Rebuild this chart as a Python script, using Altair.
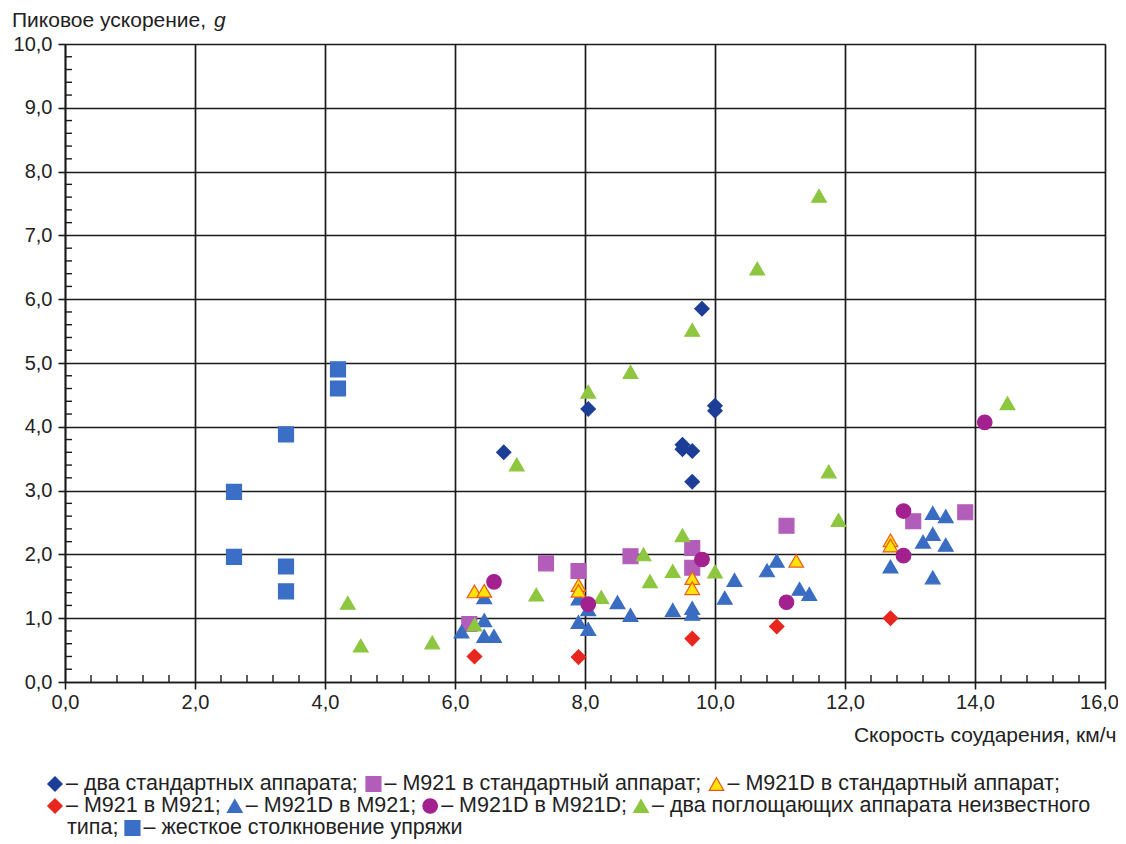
import altair as alt
import pandas as pd

# ---------------- data ----------------
two_std_x = [6.75, 8.05, 9.5, 9.5, 9.65, 9.65, 9.8, 10.0, 10.0]
two_std_y = [3.6, 4.28, 3.72, 3.65, 3.62, 3.14, 5.85, 4.33, 4.25]

m921_std_x = [6.22, 7.4, 7.9, 8.7, 9.65, 9.65, 11.1, 13.05, 13.85]
m921_std_y = [0.91, 1.86, 1.74, 1.97, 2.1, 1.79, 2.45, 2.52, 2.66]

m921d_std_x = [6.3, 6.45, 7.9, 7.9, 9.65, 9.65, 11.25, 12.7, 12.7]
m921d_std_y = [1.42, 1.43, 1.52, 1.43, 1.63, 1.47, 1.9, 2.22, 2.14]

m921_m921_x = [6.3, 7.9, 9.65, 10.95, 12.7]
m921_m921_y = [0.4, 0.39, 0.68, 0.87, 1.0]

m921d_m921_x = [6.1, 6.45, 6.45, 6.45, 6.6, 7.9, 7.9, 8.05, 8.05, 8.5, 8.7, 9.35,
                9.65, 9.65, 10.15, 10.3, 10.8, 10.95, 11.3, 11.45, 12.7, 13.2,
                13.35, 13.35, 13.35, 13.55, 13.55]
m921d_m921_y = [0.79, 0.97, 0.72, 1.33, 0.72, 1.31, 0.94, 0.83, 1.14, 1.25, 1.05, 1.13,
                1.16, 1.07, 1.32, 1.6, 1.75, 1.9, 1.46, 1.38, 1.81, 2.2,
                2.65, 2.32, 1.64, 2.6, 2.15]

m921d_m921d_x = [6.6, 8.05, 9.8, 11.1, 12.9, 12.9, 14.15]
m921d_m921d_y = [1.57, 1.22, 1.92, 1.25, 2.68, 1.98, 4.07]

unknown_x = [4.35, 4.55, 5.65, 6.3, 6.95, 7.25, 8.05, 8.25, 8.7, 8.9, 9.0, 9.35,
             9.5, 9.65, 10.0, 10.65, 11.6, 11.75, 11.9, 14.5]
unknown_y = [1.24, 0.57, 0.62, 0.9, 3.41, 1.37, 4.55, 1.33, 4.86, 2.0, 1.58, 1.74,
             2.3, 5.52, 1.73, 6.48, 7.62, 3.3, 2.54, 4.37]

rigid_x = [2.6, 2.6, 3.4, 3.4, 3.4, 4.2, 4.2]
rigid_y = [2.98, 1.96, 3.88, 1.81, 1.42, 4.9, 4.6]

x_ticks = [0, 2, 4, 6, 8, 10, 12, 14, 16]
y_ticks = [0, 1, 2, 3, 4, 5, 6, 7, 8, 9, 10]

x_title = "Скорость соударения, км/ч"
y_title = "Пиковое ускорение, "
y_title_unit = "g"

legend_lines = [
    [("two_std", "– два стандартных аппарата;"),
     ("m921_std", "– M921 в стандартный аппарат;"),
     ("m921d_std", "– M921D в стандартный аппарат;")],
    [("m921_m921", "– M921 в M921;"),
     ("m921d_m921", "– M921D в M921;"),
     ("m921d_m921d", "– M921D в M921D;"),
     ("unknown", "– два поглощающих аппарата неизвестного")],
    [(None, "типа;"),
     ("rigid", "– жесткое столкновение упряжи")],
]

# ---------------- styling ----------------
FONT = "Liberation Sans"
INK = "#1a1a1a"
TXT = "#222222"
W, H = 1040, 638
FS = 21

# drawing order (later = on top)
series_data = [
    ("rigid", rigid_x, rigid_y),
    ("m921_std", m921_std_x, m921_std_y),
    ("m921d_m921", m921d_m921_x, m921d_m921_y),
    ("unknown", unknown_x, unknown_y),
    ("m921d_std", m921d_std_x, m921d_std_y),
    ("m921d_m921d", m921d_m921d_x, m921d_m921d_y),
    ("m921_m921", m921_m921_x, m921_m921_y),
    ("two_std", two_std_x, two_std_y),
]
names = [s[0] for s in series_data]
shape_map = {"rigid": "square", "unknown": "triangle-up", "m921d_m921": "triangle-up",
             "m921_std": "square", "m921d_std": "triangle-up", "m921d_m921d": "circle",
             "m921_m921": "diamond", "two_std": "diamond"}
fill_map = {"rigid": "#3b6ec6", "unknown": "#8dc63f", "m921d_m921": "#3a6dc2",
            "m921_std": "#b25db9", "m921d_std": "#ffe30a", "m921d_m921d": "#a3208f",
            "m921_m921": "#e8261e", "two_std": "#1c3e96"}
stroke_map = dict(fill_map)
stroke_map["m921d_std"] = "#ea5a1a"
size_map = {"rigid": 225, "unknown": 175, "m921d_m921": 170, "m921_std": 205,
            "m921d_std": 175, "m921d_m921d": 190, "m921_m921": 150, "two_std": 180}

rows = []
for k, (name, xs_, ys_) in enumerate(series_data):
    for x, y in zip(xs_, ys_):
        rows.append({"series": name, "x": x, "y": y, "ord": k})
df = pd.DataFrame(rows)

shape_scale = alt.Scale(domain=names, range=[shape_map[n] for n in names])
fill_scale = alt.Scale(domain=names, range=[fill_map[n] for n in names])
stroke_scale = alt.Scale(domain=names, range=[stroke_map[n] for n in names])
size_scale = alt.Scale(domain=names, range=[size_map[n] for n in names])

LBL = "replace(format(datum.value, '.1f'), '.', ',')"

xs = alt.Scale(domain=[0, 16], nice=False, zero=False)
ys = alt.Scale(domain=[0, 10], nice=False, zero=False)

x_axis = alt.Axis(values=x_ticks, labelExpr=LBL, grid=True, gridColor=INK, gridWidth=1.7,
                  gridOpacity=1, domainColor=INK, domainWidth=1.7, tickColor=INK,
                  tickWidth=1.6, tickSize=7, labelFont=FONT, labelFontSize=20,
                  labelColor=TXT, labelPadding=3, labelFlush=False,
                  labelOffset={"condition": {"test": "datum.value == 16", "value": -6},
                               "value": 0},
                  title=x_title, titleFont=FONT, titleFontSize=FS, titleFontWeight="normal",
                  titleColor=TXT, titleX=1051, titleY=53, titleAlign="right",
                  titleBaseline="middle")
y_axis = alt.Axis(values=y_ticks, labelExpr=LBL, grid=True, gridColor=INK, gridWidth=1.7,
                  gridOpacity=1, domainColor=INK, domainWidth=1.7, tickColor=INK,
                  tickWidth=1.6, tickSize=7, labelFont=FONT, labelFontSize=20,
                  labelColor=TXT, labelPadding=6, labelFlush=False, title=None)

points = alt.Chart(df).mark_point(filled=True, opacity=1, strokeWidth=1.2).encode(
    x=alt.X("x:Q", scale=xs, axis=x_axis),
    y=alt.Y("y:Q", scale=ys, axis=y_axis),
    shape=alt.Shape("series:N", scale=shape_scale, legend=None),
    fill=alt.Fill("series:N", scale=fill_scale, legend=None),
    stroke=alt.Stroke("series:N", scale=stroke_scale, legend=None),
    size=alt.Size("series:N", scale=size_scale, legend=None),
    order=alt.Order("ord:Q"),
)

# minor ticks (4 between major ticks), pointing inward
x_minor = [round(i * 0.4, 2) for i in range(1, 40) if i % 5 != 0]
y_minor = [round(i * 0.2, 2) for i in range(1, 50) if i % 5 != 0]
xminor = alt.Chart(pd.DataFrame({"x": x_minor})).mark_rule(color=INK, strokeWidth=1.4).encode(
    x=alt.X("x:Q", scale=xs, axis=x_axis), y=alt.value(H), y2=alt.value(H - 7))
yminor = alt.Chart(pd.DataFrame({"y": y_minor})).mark_rule(color=INK, strokeWidth=1.4).encode(
    y=alt.Y("y:Q", scale=ys, axis=y_axis), x=alt.value(0), x2=alt.value(7))

# approximate glyph widths (em) for laying out the inline legend
EM = {" ": .278, "–": .556, ",": .278, ";": .278, "M": .833, "D": .722, "0": .556, "1": .556,
      "2": .556, "9": .556, "g": .556, "П": .719, "С": .722,
      "а": .556, "б": .573, "в": .531, "г": .365, "д": .583, "е": .556, "ж": .669, "з": .458,
      "и": .559, "й": .559, "к": .438, "л": .583, "м": .688, "н": .552, "о": .556, "п": .542,
      "р": .556, "с": .5, "т": .458, "у": .5, "ф": .823, "х": .5, "ц": .56, "ч": .521,
      "ш": .802, "щ": .823, "ы": .719, "ь": .521, "ю": .75, "я": .542}


def tw(s, fs):
    return sum(EM.get(c, 0.55) for c in s) * fs


layers = [points, xminor, yminor]

one = pd.DataFrame({"k": [0]})


def text_layer(text, x, y, size, style="normal"):
    return alt.Chart(one).mark_text(align="left", baseline="middle", font=FONT,
                                    fontSize=size, fontStyle=style, color=TXT,
                                    text=text).encode(x=alt.value(x), y=alt.value(y))


# y title with italic unit
layers.append(text_layer(y_title, -53, -23, FS))
layers.append(text_layer(y_title_unit, -53 + tw(y_title, FS) + 2, -23, FS, "italic"))

# custom inline legend
LFS = 21.5
line_y = [740, 762, 784]
for li, items in enumerate(legend_lines):
    cur = -10
    for name, text in items:
        if name is None:
            tx = 2
        else:
            sym = alt.Chart(pd.DataFrame({"series": [name]})).mark_point(
                filled=True, opacity=1, strokeWidth=1.2).encode(
                x=alt.value(cur), y=alt.value(line_y[li]),
                shape=alt.Shape("series:N", scale=shape_scale, legend=None),
                fill=alt.Fill("series:N", scale=fill_scale, legend=None),
                stroke=alt.Stroke("series:N", scale=stroke_scale, legend=None),
                size=alt.Size("series:N", scale=size_scale, legend=None),
            )
            layers.append(sym)
            tx = cur + 11
        layers.append(text_layer(text, tx, line_y[li], LFS))
        cur = tx + tw(text, LFS) + 14

chart = alt.layer(*layers).properties(
    width=W, height=H,
    autosize=alt.AutoSizeParams(type="none"),
    padding={"left": 57, "top": 36, "right": 13, "bottom": 160},
).configure_view(stroke=None).configure(background="white")

chart.save("out.html", embed_options={"renderer": "svg", "actions": False})
